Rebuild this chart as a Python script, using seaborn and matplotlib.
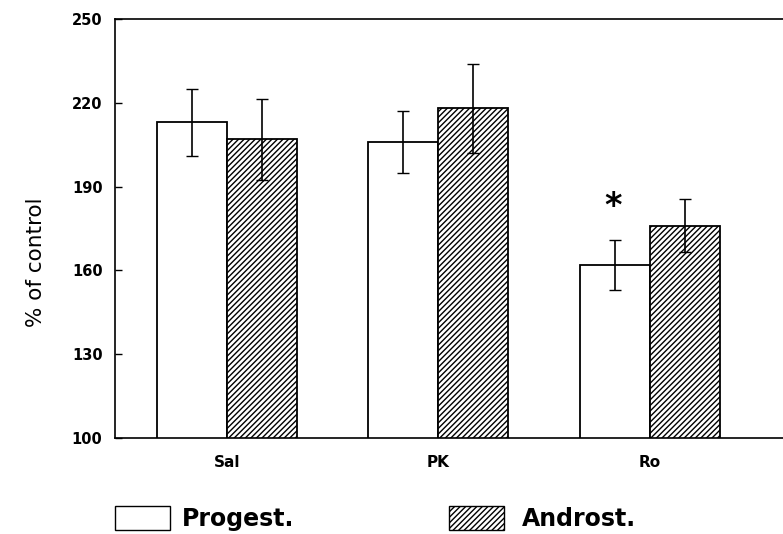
import matplotlib
matplotlib.use("Agg")
import matplotlib.pyplot as plt
import seaborn as sns
import pandas as pd
from matplotlib.patches import Patch

categories = ["Sal", "PK", "Ro"]
groups = ["Progest.", "Androst."]
progest = [213, 206, 162]
androst = [207, 218, 176]
progest_err = [12, 11, 9]
androst_err = [14.5, 16, 9.5]
yticks = [100, 130, 160, 190, 220, 250]
ytick_labels = ["100", "130", "160", "190", "220", "250"]

sns.set_style("ticks")
plt.rcParams["font.family"] = ["DejaVu Sans"]
plt.rcParams["hatch.linewidth"] = 1.0
plt.rcParams["hatch.color"] = "#444444"
for key in ["text.color", "axes.labelcolor", "xtick.color", "ytick.color",
            "axes.edgecolor"]:
    plt.rcParams[key] = "black"

df = pd.DataFrame({
    "cat": categories * 2,
    "grp": [groups[0]] * 3 + [groups[1]] * 3,
    "val": progest + androst,
    "err": progest_err + androst_err,
})

fig = plt.figure(figsize=(7.83, 5.34), dpi=100)
ax = fig.add_axes([115 / 783, 96 / 534, 680 / 783, 419 / 534])

sns.barplot(data=df, x="cat", y="val", hue="grp", order=categories,
            hue_order=groups, palette=["white", "white"], width=0.662,
            errorbar=None, edgecolor="black", linewidth=1.3, ax=ax,
            legend=False)

bars = ax.patches
for i, p in enumerate(bars[:6]):
    if i >= 3:
        p.set_hatch("//////")
    x = p.get_x() + p.get_width() / 2
    y = p.get_height() + p.get_y()
    e = df["err"].iloc[i]
    ax.errorbar(x, y, yerr=e, color="black", capsize=4, elinewidth=1.2,
                capthick=1.0, zorder=5)

# significance asterisk over Ro Progest.
p_ro = bars[2]
ax.text(p_ro.get_x() + p_ro.get_width() / 2 - 0.01, 183, "*", ha="center",
        va="center", fontsize=24, fontweight="bold")

ax.set_ylim(100, 250)
ax.set_xlim(-0.528, 2.686)
ax.set_yticks(yticks)
ax.set_yticklabels(ytick_labels, fontsize=10.5, fontweight="bold")
ax.tick_params(axis="y", direction="in", length=5, width=1, pad=9)
ax.tick_params(axis="x", length=0, pad=12, labelsize=11)
for lbl in ax.get_xticklabels():
    lbl.set_fontweight("bold")
ax.set_xlabel("")
ax.set_ylabel("% of control", fontsize=15.5)
ax.yaxis.set_label_coords(-0.102, 0.42)
for s in ax.spines.values():
    s.set_linewidth(1.2)
ax.spines["right"].set_visible(False)

h1 = Patch(facecolor="white", edgecolor="black", linewidth=1.0)
h2 = Patch(facecolor="white", edgecolor="black", linewidth=1.0, hatch="//////")
common = dict(loc="lower left", frameon=False,
              prop={"size": 17, "weight": "bold"}, handlelength=2.33,
              handleheight=1.23, borderpad=0, borderaxespad=0)
fig.legend([h1], [groups[0]], bbox_to_anchor=(115 / 783, 3 / 534),
           handletextpad=0.5, **common)
fig.legend([h2], [groups[1]], bbox_to_anchor=(449 / 783, 3 / 534),
           handletextpad=0.76, **common)

fig.savefig("out.png", dpi=100)
